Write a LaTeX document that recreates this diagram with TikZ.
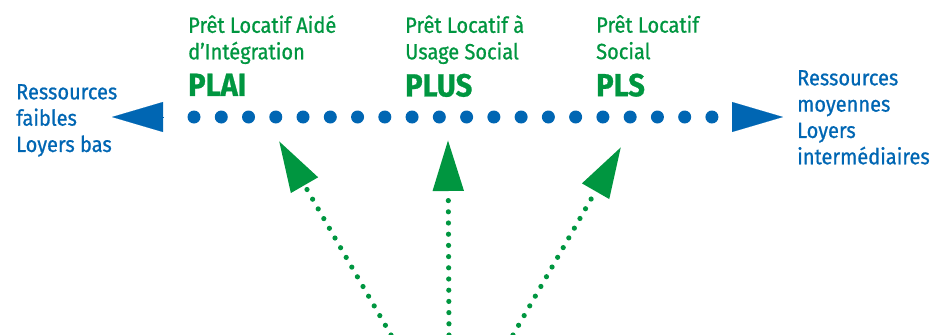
\documentclass[tikz,border=0pt]{standalone}
\usepackage{fontspec}
\setmainfont{Fira Sans}[FakeStretch=0.91, FakeBold=0.8]
\usepackage{tikz}
\usetikzlibrary{positioning,arrows.meta}
\definecolor{vert}{HTML}{009640}
\definecolor{bleu}{HTML}{0066B3}

\begin{document}
\begin{tikzpicture}[x=1pt,y=-1pt,
  PRET/.style={text=vert, font=\fontsize{22}{26.5}\selectfont, align=left, inner sep=0pt, anchor=north west, text depth=5pt},
  SIGLE/.style={text=vert, font=\fontsize{32}{32}\selectfont\bfseries, inner sep=0pt},
  RES/.style={text=bleu, font=\fontsize{22}{26.3}\selectfont, align=left, inner sep=0pt, anchor=north west},
  AXE/.style={bleu, line width=13pt, line cap=round, dash pattern=on 0pt off 27.26pt},
  BOUT/.style={bleu, line width=0.1pt, -{Triangle[length=51pt,width=30pt]}},
  FLECHE/.style={vert, line width=5.2pt, line cap=round, dash pattern=on 0pt off 11.2pt, -{Triangle[length=51pt,width=30pt]}}]
\useasboundingbox (0,0) rectangle (930,335);

%Nodes
\node[PRET] (t1) at (188,15) {Prêt Locatif Aidé\\d’Intégration};
\node[PRET] (t2) at (405,15) {Prêt Locatif à\\Usage Social};
\node[PRET] (t3) at (596,15) {Prêt Locatif\\Social};
\node[SIGLE, below=9pt of t1.south west, anchor=north west] (s1) {PLAI};
\node[SIGLE, below=9pt of t2.south west, anchor=north west] (s2) {PLUS};
\node[SIGLE, below=9pt of t3.south west, anchor=north west] (s3) {PLS};

\node[RES] (faible) at (16,84) {Ressources\\faibles\\Loyers bas};
\node[RES] (moyen) at (797,70) {Ressources\\moyennes\\Loyers\\intermédiaires};

\coordinate (d1) at (194,117);
\coordinate (d2) at (713,117);
\coordinate (gb) at (163,117);
\coordinate (gt) at (112,117);
\coordinate (db) at (732,117);
\coordinate (dt) at (783,117);

\coordinate (o1) at (391,335);
\coordinate (o2) at (449,335);
\coordinate (o3) at (513,335);
\coordinate (c1) at (279,141);
\coordinate (c2) at (448,140);
\coordinate (c3) at (621,147);

%Lines
\draw[AXE] (d1) -- (d2);
\draw[BOUT] (gb) -- (gt);
\draw[BOUT] (db) -- (dt);

\draw[FLECHE] (o1) -- (c1);
\draw[FLECHE] (o2) -- (c2);
\draw[FLECHE] (o3) -- (c3);

\end{tikzpicture}
\end{document}
